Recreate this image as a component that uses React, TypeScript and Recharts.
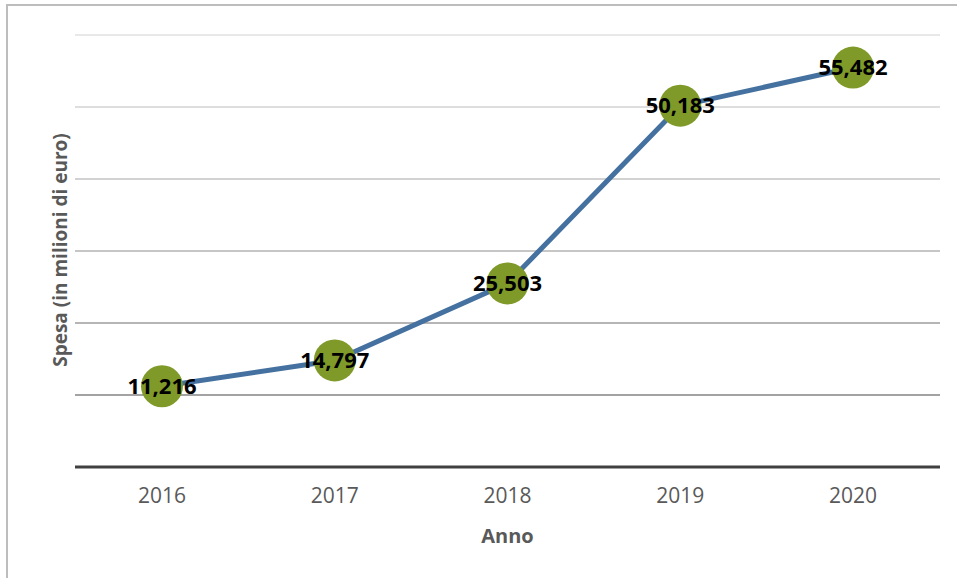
import { LineChart, Line, XAxis, YAxis, ReferenceLine, LabelList } from "recharts";

const years = ["2016", "2017", "2018", "2019", "2020"];
const spesa = [11216, 14797, 25503, 50183, 55482];
const gridValues = [10000, 20000, 30000, 40000, 50000, 60000];
const gridColors = ["#a3a3a3", "#b5b5b5", "#c6c6c6", "#d2d2d2", "#dedede", "#e8e8e8"];

const data = years.map((anno, i) => ({ anno, spesa: spesa[i] }));

const font = "'Open Sans', 'DejaVu Sans', sans-serif";

function formatValue(value: number) {
  return value.toLocaleString("en-US");
}

function Dot(props: any) {
  const { cx, cy } = props;
  return <circle cx={cx} cy={cy} r={21} fill="#7f9a29" />;
}

export default function App() {
  return (
    <div style={{ position: "fixed", left: 0, top: 0, width: 957, height: 578, overflow: "hidden", background: "#fff" }}>
      <div
        style={{
          position: "absolute",
          left: 6,
          top: 4,
          width: 960,
          height: 580,
          borderLeft: "2px solid #bdbdbd",
          borderTop: "2px solid #bdbdbd"
        }}
      />
      <div style={{ position: "absolute", left: 0, top: 0 }}>
        <LineChart width={957} height={578} data={data} margin={{ top: 35, right: 17, bottom: 81, left: 75 }}>
          <YAxis hide domain={[0, 60000]} ticks={[0, ...gridValues]} />
          {gridValues.map((v, i) => (
            <ReferenceLine key={v} y={v} stroke={gridColors[i]} strokeWidth={2} />
          ))}
          <XAxis
            dataKey="anno"
            height={30}
            padding={{ left: 87, right: 87 }}
            axisLine={{ stroke: "#404040", strokeWidth: 3 }}
            tickLine={false}
            tick={{ fill: "#595959", fontSize: 21, fontFamily: font }}
            tickMargin={15}
            label={{
              value: "Anno",
              position: "insideBottom",
              offset: -46,
              fill: "#595959",
              fontSize: 20,
              fontWeight: "bold",
              fontFamily: font
            }}
          />
          <Line
            dataKey="spesa"
            stroke="#44719f"
            strokeWidth={5}
            dot={<Dot />}
            activeDot={false}
            isAnimationActive={false}
          >
            <LabelList
              dataKey="spesa"
              position="center"
              formatter={(v: any) => formatValue(Number(v))}
              fill="#000"
              fontSize={22}
              fontWeight="bold"
              fontFamily={font}
            />
          </Line>
        </LineChart>
      </div>
      <div
        style={{
          position: "absolute",
          left: 60,
          top: 250,
          transform: "translate(-50%, -50%) rotate(-90deg)",
          whiteSpace: "nowrap",
          color: "#595959",
          fontSize: 19,
          fontWeight: "bold",
          fontFamily: font
        }}
      >
        Spesa (in milioni di euro)
      </div>
    </div>
  );
}
